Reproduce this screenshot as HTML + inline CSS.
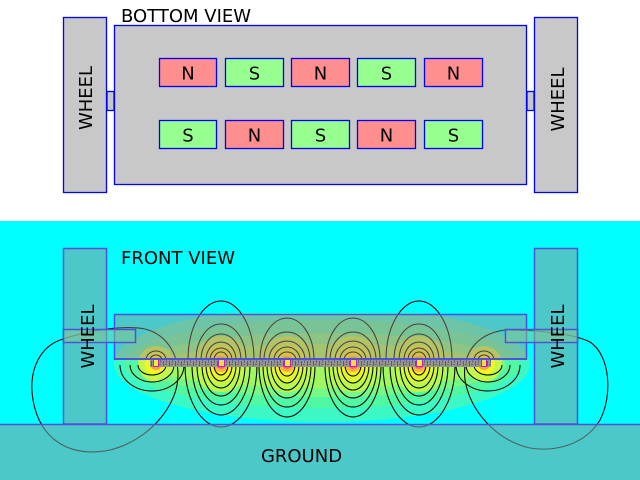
<!DOCTYPE html>
<html><head><meta charset="utf-8"><style>html,body{margin:0;padding:0;background:#fff}svg{display:block}</style></head><body>
<svg width="640" height="480" viewBox="0 0 640 480" xmlns="http://www.w3.org/2000/svg" font-family="'DejaVu Sans','Liberation Sans',sans-serif">
<defs>
<clipPath id="fc"><rect x="0" y="313" width="640" height="111"/></clipPath>
<pattern id="strp" x="0" y="359" width="6" height="8" patternUnits="userSpaceOnUse">
<rect width="6" height="8" fill="#949494"/>
<rect x="1" y="2" width="1" height="5" fill="#5e5e5e"/>
<rect x="4" y="1" width="1" height="3" fill="#6a6a6a"/>
<rect x="3" y="5" width="2" height="1" fill="#6a6a6a"/>
</pattern>
</defs>
<rect x="0" y="0" width="640" height="221" fill="#ffffff"/>
<rect x="0" y="221" width="640" height="259" fill="#00ffff"/>

<!-- BOTTOM VIEW -->
<g stroke="#0000ff" stroke-width="1.3">
<rect x="63.5" y="17.5" width="43" height="175" fill="#c8c8c8"/>
<rect x="534.5" y="17.5" width="43" height="175" fill="#c8c8c8"/>
<rect x="107" y="91.5" width="7" height="19" fill="#c8c8c8"/>
<rect x="527" y="91.5" width="7" height="19" fill="#c8c8c8"/>
<rect x="114.5" y="25.5" width="412" height="159" fill="#c8c8c8"/>
<rect x="159.5" y="58.5" width="57" height="28" fill="#ff8f8f"/>
<rect x="225.5" y="58.5" width="58" height="28" fill="#96ff90"/>
<rect x="291.5" y="58.5" width="58" height="28" fill="#ff8f8f"/>
<rect x="357.5" y="58.5" width="58" height="28" fill="#96ff90"/>
<rect x="424.5" y="58.5" width="58" height="28" fill="#ff8f8f"/>
<rect x="159.5" y="120.5" width="57" height="28" fill="#96ff90"/>
<rect x="225.5" y="120.5" width="58" height="28" fill="#ff8f8f"/>
<rect x="291.5" y="120.5" width="58" height="28" fill="#96ff90"/>
<rect x="357.5" y="120.5" width="58" height="28" fill="#ff8f8f"/>
<rect x="424.5" y="120.5" width="58" height="28" fill="#96ff90"/>
</g>
<g font-size="18" fill="#000" text-anchor="middle">
<text x="188" y="79.5">N</text><text x="254.5" y="79.5">S</text><text x="320.5" y="79.5">N</text><text x="386.5" y="79.5">S</text><text x="453.5" y="79.5">N</text>
<text x="188" y="141.5">S</text><text x="254.5" y="141.5">N</text><text x="320.5" y="141.5">S</text><text x="386.5" y="141.5">N</text><text x="453.5" y="141.5">S</text>
<text transform="translate(92,98) rotate(-90)" x="0" y="0">WHEEL</text>
<text transform="translate(564,99.5) rotate(-90)" x="0" y="0">WHEEL</text>
</g>
<text x="121" y="22" font-size="18" fill="#000">BOTTOM VIEW</text>

<!-- FRONT VIEW field -->
<g clip-path="url(#fc)">
<ellipse cx="322" cy="364" rx="208" ry="58" fill="#3cf8c4"/>
<ellipse cx="322" cy="364" rx="198" ry="44" fill="#50f8a4"/>
<ellipse cx="322" cy="365" rx="184" ry="32" fill="#78f884"/>
<ellipse cx="322" cy="366" rx="170" ry="22" fill="#a0f860"/>
<g id="pA">
<circle cx="221" cy="364" r="28" fill="#baf84c"/>
<circle cx="221" cy="364" r="19" fill="#dcf830"/>
<circle cx="221" cy="364" r="12" fill="#fbf410"/>
<circle cx="221" cy="364" r="8" fill="#ffb040"/>
<circle cx="221" cy="364" r="5" fill="#ff6060"/>
<circle cx="221" cy="364" r="2.5" fill="#ff40ff"/>
</g>
<use href="#pA" x="66"/><use href="#pA" x="132"/><use href="#pA" x="198"/>
<g id="pE">
<circle cx="156" cy="364" r="18" fill="#c4f848"/>
<circle cx="156" cy="364" r="11" fill="#f0f820"/>
<circle cx="156" cy="364" r="6" fill="#ffa040"/>
<circle cx="156" cy="364" r="2.5" fill="#ff40ff"/>
</g>
<use href="#pE" x="328"/>
</g>

<!-- contour lines -->
<g fill="none" stroke="#000" stroke-width="1.05">
<!-- pole 221 (type A) -->
<path d="M188,360 A33 59 0 0 1 254,360 M196,360 A25 36 0 0 1 246,360 M201,360 A20 26 0 0 1 241,360 M206,360 A15 18 0 0 1 236,360 M210,360 A11 12 0 0 1 232,360 M214,360 A7 8 0 0 1 228,360"/>
<path d="M185,365 A36 62 0 0 0 257,365 M192,365 A29 50 0 0 0 250,365 M197,365 A24 40 0 0 0 245,365 M202,365 A19 31 0 0 0 240,365 M206,365 A15 23 0 0 0 236,365 M210,365 A11 16 0 0 0 232,365 M214,365 A7 10 0 0 0 228,365"/>
<!-- pole 419 (type A) -->
<path d="M386,360 A33 59 0 0 1 452,360 M394,360 A25 36 0 0 1 444,360 M399,360 A20 26 0 0 1 439,360 M404,360 A15 18 0 0 1 434,360 M408,360 A11 12 0 0 1 430,360 M412,360 A7 8 0 0 1 426,360"/>
<path d="M383,365 A36 62 0 0 0 455,365 M390,365 A29 50 0 0 0 448,365 M395,365 A24 40 0 0 0 443,365 M400,365 A19 31 0 0 0 438,365 M404,365 A15 23 0 0 0 434,365 M408,365 A11 16 0 0 0 430,365 M412,365 A7 10 0 0 0 426,365"/>
<!-- pole 287 (type B) -->
<path d="M260,360 A27 42 0 0 1 314,360 M264,360 A23 28 0 0 1 310,360 M269,360 A18 19 0 0 1 305,360 M274,360 A13 13 0 0 1 300,360 M278,360 A9 8 0 0 1 296,360"/>
<path d="M259,365 A28 52 0 0 0 315,365 M263,365 A24 42 0 0 0 311,365 M267,365 A20 33 0 0 0 307,365 M271,365 A16 25 0 0 0 303,365 M275,365 A12 18 0 0 0 299,365 M279,365 A8 11 0 0 0 295,365"/>
<!-- pole 353 (type B) -->
<path d="M326,360 A27 42 0 0 1 380,360 M330,360 A23 28 0 0 1 376,360 M335,360 A18 19 0 0 1 371,360 M340,360 A13 13 0 0 1 366,360 M344,360 A9 8 0 0 1 362,360"/>
<path d="M325,365 A28 52 0 0 0 381,365 M329,365 A24 42 0 0 0 377,365 M333,365 A20 33 0 0 0 373,365 M337,365 A16 25 0 0 0 369,365 M341,365 A12 18 0 0 0 365,365 M345,365 A8 11 0 0 0 361,365"/>
<!-- end poles -->
<path d="M146,360 A10 9 0 0 1 166,360 M150,360 A6 5 0 0 1 162,360"/>
<path d="M120,365 A32 26 0 0 0 184,365 M130,365 A22 17 0 0 0 174,365 M138,365 A14 10 0 0 0 166,365"/>
<path d="M474,360 A10 9 0 0 1 494,360 M478,360 A6 5 0 0 1 490,360"/>
<path d="M456,365 A32 26 0 0 0 520,365 M466,365 A22 17 0 0 0 510,365 M474,365 A14 10 0 0 0 502,365"/>
<!-- big end loops -->
<path d="M63,339 C90,330 125,325 145,329 C165,334 178,352 178,375 C178,405 150,440 110,450 C70,458 40,440 33,400 C28,370 40,346 63,339 Z"/>
<path d="M505,330 C530,330 570,332 590,342 C610,355 613,395 600,420 C585,445 555,452 530,448 C495,440 470,410 465,380 C462,355 475,334 505,330 Z"/>
</g>

<!-- semi-transparent overlays -->
<g fill="#7fa3a3" fill-opacity="0.6" stroke="#5050d8" stroke-width="1.5">
<rect x="63.5" y="248.5" width="43" height="175.5"/>
<rect x="534.5" y="248.5" width="43" height="175.5"/>
<rect x="-2" y="424.5" width="644" height="60"/>
</g>
<rect x="114.5" y="314.5" width="412" height="44.5" fill="#a98585" fill-opacity="0.45" stroke="#5050d8" stroke-width="1.5"/>
<g fill="#86c890" fill-opacity="0.5" stroke="#5050d8" stroke-width="1.5">
<rect x="63.5" y="329.5" width="72" height="13"/>
<rect x="505.5" y="329.5" width="72" height="13"/>
</g>

<!-- magnet strip -->
<rect x="150" y="359" width="341" height="8" fill="url(#strp)"/>
<g stroke="#c020c0" stroke-width="1">
<rect x="153.5" y="359.5" width="5" height="7" fill="#f0f020"/>
<rect x="218.5" y="359.5" width="6" height="7" fill="#e8e040"/>
<rect x="284.5" y="359.5" width="6" height="7" fill="#f0f020"/>
<rect x="350.5" y="359.5" width="6" height="7" fill="#e8e040"/>
<rect x="416.5" y="359.5" width="6" height="7" fill="#f0f020"/>
<rect x="481.5" y="359.5" width="5" height="7" fill="#e8e040"/>
</g>
<line x1="114" y1="359" x2="527" y2="359" stroke="#5050d8" stroke-width="2"/>

<!-- labels -->
<g font-size="18" fill="#000">
<text x="121" y="264">FRONT VIEW</text>
<text x="301.5" y="462" text-anchor="middle">GROUND</text>
<text transform="translate(94,336.5) rotate(-90)" x="0" y="0" text-anchor="middle">WHEEL</text>
<text transform="translate(564,336.5) rotate(-90)" x="0" y="0" text-anchor="middle">WHEEL</text>
</g>
</svg>
</body></html>
